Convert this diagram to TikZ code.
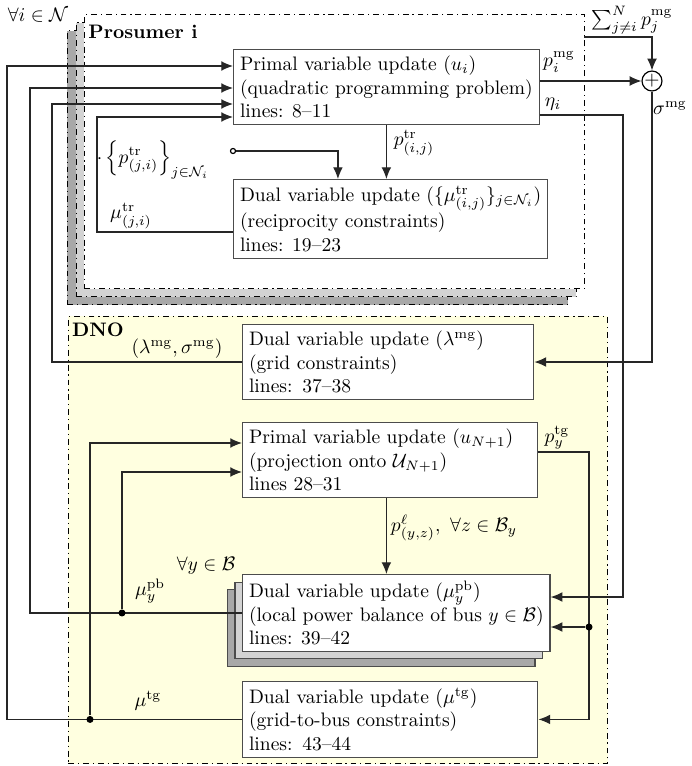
\documentclass[tikz,border=0pt]{standalone}
\usepackage{amsmath}
\usepackage{amssymb}
\usetikzlibrary{arrows.meta, calc, shadows}
\definecolor{dnoYellow}{RGB}{255,255,224}
\definecolor{layerLight}{RGB}{211,211,211}
\definecolor{layerDark}{RGB}{168,168,168}

\begin{document}
\begin{tikzpicture}[
    x=0.512pt, y=-0.512pt,
    line width=0.6pt,
    update/.style={rectangle, draw=black!70, fill=white, align=left, anchor=north west, inner sep=3.3pt},
    frame/.style={rectangle, draw=black, dash dot, line width=0.5pt, anchor=north west},
    arrow/.style={-{Latex[length=6pt, width=5pt]}, draw=black!85},
    junction/.style={circle, fill=black, inner sep=0pt, minimum size=3.6pt},
    port/.style={circle, draw=black, fill=white, inner sep=0pt, minimum size=2.6pt},
    adder/.style={circle, draw=black, fill=white, inner sep=0pt, minimum size=10.2pt}
]
\useasboundingbox (0,0) rectangle (691,766);

% Prosumer block, one copy per prosumer
\node[frame, fill=white, minimum width=256pt, minimum height=140.3pt,
      copy shadow={fill=layerDark, shadow xshift=-8.7pt, shadow yshift=-8.2pt},
      copy shadow={fill=layerLight, shadow xshift=-4.35pt, shadow yshift=-4.2pt}] (prosumer) at (84,14) {};
\node (forall) at (38,15) {$\forall i\in\mathcal{N}$};
\node[font=\bfseries] (prosumerlbl) at (143,32) {Prosumer i};

% DNO block
\node[frame, fill=dnoYellow, minimum width=276pt, minimum height=228.9pt] (dno) at (68,316) {};
\node[font=\bfseries] (dnolbl) at (98,330) {DNO};

% Prosumer updates
\node[update] (prim) at (233,49) {Primal variable update ($u_i$)\\(quadratic programming problem)\\lines: 8--11};
\node[update] (recip) at (233,179) {Dual variable update ($\{\mu^{\mathrm{tr}}_{(i,j)}\}_{j\in\mathcal{N}_i}$)\\(reciprocity constraints)\\lines: 19--23};

% DNO updates
\node[update, text width=142.5pt] (lam) at (242,324) {Dual variable update ($\lambda^{\mathrm{mg}}$)\\(grid constraints)\\lines: 37--38};
\node[update, text width=144.6pt] (uN1) at (242,422) {Primal variable update ($u_{N+1}$)\\(projection onto $\mathcal{U}_{N+1}$)\\lines 28--31};
\node[update, copy shadow={fill=layerDark, shadow xshift=-7.7pt, shadow yshift=-7.7pt},
      copy shadow={fill=layerLight, shadow xshift=-3.85pt, shadow yshift=-3.85pt}] (mupb) at (242,574) {Dual variable update ($\mu_y^{\mathrm{pb}}$)\\(local power balance of bus $y\in\mathcal{B}$)\\lines: 39--42};
\node[update, text width=144.6pt] (mutg) at (242,681) {Dual variable update ($\mu^{\mathrm{tg}}$)\\(grid-to-bus constraints)\\lines: 43--44};
\node (forally) at (206,566) {$\forall y\in\mathcal{B}$};

% grid coupling
\node[adder] (sum) at (652,81) {$+$};
\coordinate (sumin) at (584,37);
\node (sumlbl) at (632,20) {$\sum_{j\neq i}^{N} p_j^{\mathrm{mg}}$};
\draw[arrow] (sumin) -| (sum.north);
\draw[arrow] (prim.east |- sum.west) -- (sum.west);
\node (pmg) at (559,62) {$p_i^{\mathrm{mg}}$};
\draw[arrow] (sum.south) |- (lam.east);
\node (sigmg) at (670,108) {$\sigma^{\mathrm{mg}}$};
\draw[arrow] (prim.east |- 0,115) -| (623,597) -- (mupb.east |- 0,597);
\node (eta) at (553,104) {$\eta_i$};

% inside the prosumer
\draw[arrow] (prim.south) -- (prim.south |- recip.north);
\node (ptrij) at (414,143) {$p^{\mathrm{tr}}_{(i,j)}$};
\node[port] (ptrin) at (233,151) {};
\draw[arrow] (ptrin) -| ([xshift=-27pt]recip.north);
\node (ptrji) at (153,160) {$\cdot\left\{p^{\mathrm{tr}}_{(j,i)}\right\}_{j\in\mathcal{N}_i}$};
\draw[arrow] (recip.west |- 0,232) -| (97,117) -- (prim.west |- 0,117);
\node (mutr) at (131,216) {$\mu^{\mathrm{tr}}_{(j,i)}$};

% feedback to the prosumers
\draw[arrow] (lam.west) -| (52,104) -- (prim.west |- 0,104);
\node (lamsig) at (177,349) {$(\lambda^{\mathrm{mg}},\sigma^{\mathrm{mg}})$};
\draw[arrow] (mupb.west) -| (30,88) -- (prim.west |- 0,88);
\node[junction] (jpb) at (mupb.west -| 122,0) {};
\draw[arrow] (jpb) |- (uN1.west |- 0,472);
\node (mupblbl) at (150,591) {$\mu_y^{\mathrm{pb}}$};
\draw[arrow] (mutg.west) -| (7,66) -- (prim.west |- 0,66);
\node[junction] (jtg) at (mutg.west -| 90,0) {};
\draw[arrow] (jtg) |- (uN1.west |- 0,443);
\node (mutglbl) at (148,701) {$\mu^{\mathrm{tg}}$};

% inside the DNO
\draw[arrow] (uN1.south -| prim.south) -- (mupb.north -| prim.south);
\node (pline) at (454,528) {$p^{\ell}_{(y,z)},\ \forall z\in\mathcal{B}_y$};
\draw[arrow] (uN1.east |- 0,452) -| (mutg.east -| 589,0) -- (mutg.east);
\node[junction] (jptg) at (589,627) {};
\draw[arrow] (jptg) -- (mupb.east |- jptg);
\node (ptg) at (557,438) {$p_y^{\mathrm{tg}}$};
\end{tikzpicture}
\end{document}
